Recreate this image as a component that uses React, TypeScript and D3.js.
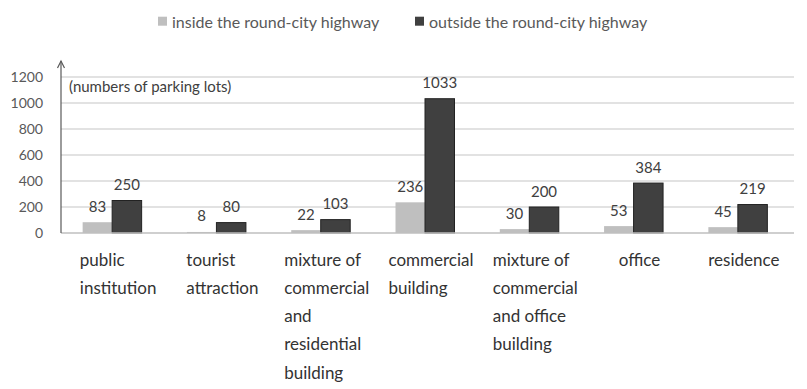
import React, { useEffect, useRef } from "react";
import * as d3 from "d3";

// chart data
const categories = [
  ["public", "institution"],
  ["tourist", "attraction"],
  ["mixture of", "commercial", "and", "residential", "building"],
  ["commercial", "building"],
  ["mixture of", "commercial", "and office", "building"],
  ["office"],
  ["residence"],
];
const insideValues = [83, 8, 22, 236, 30, 53, 45];
const outsideValues = [250, 80, 103, 1033, 200, 384, 219];
const seriesNames = ["inside the round-city highway", "outside the round-city highway"];
const yTicks = [0, 200, 400, 600, 800, 1000, 1200];
const yUnit = "(numbers of parking lots)";

const colors = ["#bfbfbf", "#404040"];
const font = "Lato, 'Open Sans', sans-serif";

function App() {
  const ref = useRef<SVGSVGElement>(null);

  useEffect(() => {
    const svg = d3.select(ref.current);
    svg.selectAll("*").remove();

    const left = 60, right = 790, gridRight = 794;
    const x0 = d3.scaleBand<number>()
      .domain(d3.range(categories.length))
      .range([left, right]);
    const x1 = d3.scaleBand<number>()
      .domain([0, 1])
      .range([0, x0.bandwidth()])
      .paddingInner(0)
      .paddingOuter(0.768);
    const y = d3.scaleLinear().domain([0, 1200]).range([233, 77]);

    // gridlines
    svg.append("g")
      .selectAll("line")
      .data(yTicks.slice(1))
      .join("line")
      .attr("x1", left + 1)
      .attr("x2", gridRight)
      .attr("y1", (d) => y(d))
      .attr("y2", (d) => y(d))
      .attr("stroke", "#d9d9d9")
      .attr("stroke-width", 1.3);

    // tick labels
    svg.append("g")
      .selectAll("text")
      .data(yTicks)
      .join("text")
      .attr("x", 43)
      .attr("y", (d) => y(d))
      .attr("dy", "0.35em")
      .attr("text-anchor", "end")
      .attr("font-family", font)
      .attr("font-size", 14)
      .attr("fill", "#595959")
      .text((d) => d);

    // unit label
    svg.append("text")
      .attr("x", 69)
      .attr("y", 92)
      .attr("font-family", font)
      .attr("font-size", 15)
      .attr("fill", "#404040")
      .text(yUnit);

    // bars
    const series = [insideValues, outsideValues];
    series.forEach((values, s) => {
      const g = svg.append("g");
      g.selectAll("rect")
        .data(values)
        .join("rect")
        .attr("x", (d, i) => x0(i)! + x1(s)!)
        .attr("y", (d) => y(d))
        .attr("width", x1.bandwidth())
        .attr("height", (d) => y(0) - y(d))
        .attr("fill", colors[s])
        .attr("stroke", s === 1 ? "#222" : "none")
        .attr("stroke-width", 1);
      g.selectAll("text")
        .data(values)
        .join("text")
        .attr("x", (d, i) => x0(i)! + x1(s)! + x1.bandwidth() / 2)
        .attr("y", (d) => y(d) - 10.5)
        .attr("text-anchor", "middle")
        .attr("font-family", font)
        .attr("font-size", 15)
        .attr("fill", "#404040")
        .text((d) => d);
    });

    // baseline
    svg.append("line")
      .attr("x1", left + 1)
      .attr("x2", gridRight)
      .attr("y1", y(0))
      .attr("y2", y(0))
      .attr("stroke", "#bfbfbf")
      .attr("stroke-width", 1.3);

    // y axis with arrow
    const ax = left + 1;
    svg.append("line")
      .attr("x1", ax).attr("x2", ax)
      .attr("y1", y(0)).attr("y2", 61)
      .attr("stroke", "#595959")
      .attr("stroke-width", 1.2);
    svg.append("path")
      .attr("d", `M${ax - 3.5},68 L${ax},61 L${ax + 3.5},68`)
      .attr("fill", "none")
      .attr("stroke", "#595959")
      .attr("stroke-width", 1.2);

    // category labels, block centred on widest line
    const lineH = 28.3;
    categories.forEach((lines, i) => {
      const g = svg.append("g");
      const texts = g.selectAll("text")
        .data(lines)
        .join("text")
        .attr("y", (d, k) => 265.5 + k * lineH)
        .attr("font-family", font)
        .attr("font-size", 17)
        .attr("fill", "#333333")
        .text((d) => d);
      let w = 0;
      texts.each(function () {
        w = Math.max(w, (this as SVGTextElement).getComputedTextLength());
      });
      const cx = x0(i)! + x0.bandwidth() / 2;
      texts.attr("x", cx - w / 2 + 6);
    });

    // legend
    const legendX = [158, 415];
    seriesNames.forEach((name, s) => {
      svg.append("rect")
        .attr("x", legendX[s])
        .attr("y", 16.7)
        .attr("width", 9)
        .attr("height", 9)
        .attr("fill", colors[s]);
      svg.append("text")
        .attr("x", legendX[s] + 14)
        .attr("y", 27.5)
        .attr("font-family", font)
        .attr("font-size", 16)
        .attr("fill", "#595959")
        .text(name);
    });
  }, []);

  return (
    <svg
      ref={ref}
      width={807}
      height={389}
      style={{ position: "absolute", left: 0, top: 0, background: "#fff" }}
    />
  );
}

export default App;
